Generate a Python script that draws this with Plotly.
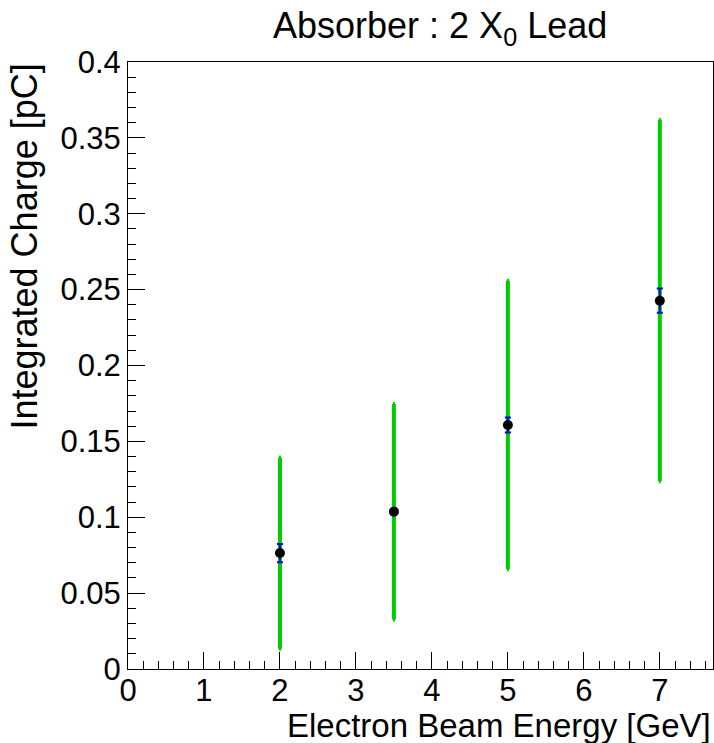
import plotly.graph_objects as go

energy = [2.0, 3.5, 5.0, 7.0]
charge = [0.0764, 0.1037, 0.1608, 0.2427]
stat_err = [0.006, 0.002, 0.005, 0.008]
syst_err = [0.063, 0.071, 0.095, 0.119]

x_ticks = [0, 1, 2, 3, 4, 5, 6, 7]
y_ticks = [0, 0.05, 0.1, 0.15, 0.2, 0.25, 0.3, 0.35, 0.4]
y_ticktext = ["0", "0.05", "0.1", "0.15", "0.2", "0.25", "0.3", "0.35", "0.4"]

FONT = "Liberation Sans, Arial, sans-serif"

fig = go.Figure()
fig.add_trace(go.Scatter(
    x=energy, y=charge, mode="markers",
    marker=dict(size=1, color="rgba(0,0,0,0)"),
    error_y=dict(type="data", array=syst_err, color="#00cc00", thickness=4, width=1),
    showlegend=False, hoverinfo="skip"))
fig.add_trace(go.Scatter(
    x=energy, y=charge, mode="markers",
    marker=dict(size=10, color="black"),
    error_y=dict(type="data", array=stat_err, color="#0000ff", thickness=2, width=3),
    showlegend=False))

fig.update_layout(
    width=714, height=743,
    margin=dict(l=128, r=1, t=62, b=74, autoexpand=False),
    plot_bgcolor="white", paper_bgcolor="white",
    font=dict(family=FONT, color="black", size=31),
    xaxis=dict(range=[0, 7.7], tickvals=x_ticks, automargin=False,
               ticks="inside", ticklen=17, tickwidth=1, tickcolor="black",
               ticklabelstandoff=-6,
               minor=dict(dtick=0.2, ticks="inside", ticklen=8, tickwidth=1, tickcolor="black"),
               showgrid=False, zeroline=False, showline=True, linecolor="black", linewidth=1,
               mirror=True, tickfont=dict(size=31)),
    yaxis=dict(range=[0, 0.4], tickvals=y_ticks, ticktext=y_ticktext, automargin=False,
               ticks="inside", ticklen=17, tickwidth=1, tickcolor="black",
               minor=dict(dtick=0.01, ticks="inside", ticklen=8, tickwidth=1, tickcolor="black"),
               showgrid=False, zeroline=False, showline=True, linecolor="black", linewidth=1,
               mirror=True, tickfont=dict(size=31)),
    annotations=[
        dict(text="Absorber : 2 X<sub>0</sub> Lead", x=(440 - 128) / 585, y=1,
             xref="paper", yref="paper", xanchor="center", yanchor="bottom", yshift=9,
             showarrow=False, font=dict(size=36)),
        dict(text="Electron Beam Energy [GeV]", x=1, y=0, xref="paper", yref="paper",
             xanchor="right", yanchor="top", yshift=-36, showarrow=False, font=dict(size=33)),
        dict(text="Integrated Charge [pC]", x=0, y=1, xref="paper", yref="paper",
             xanchor="right", yanchor="top", xshift=-82, textangle=-90, showarrow=False,
             font=dict(size=36)),
    ],
)

fig.write_html("out.html", config={"displayModeBar": False},
               post_script="document.body.style.margin='0';document.body.style.overflow='hidden';")
